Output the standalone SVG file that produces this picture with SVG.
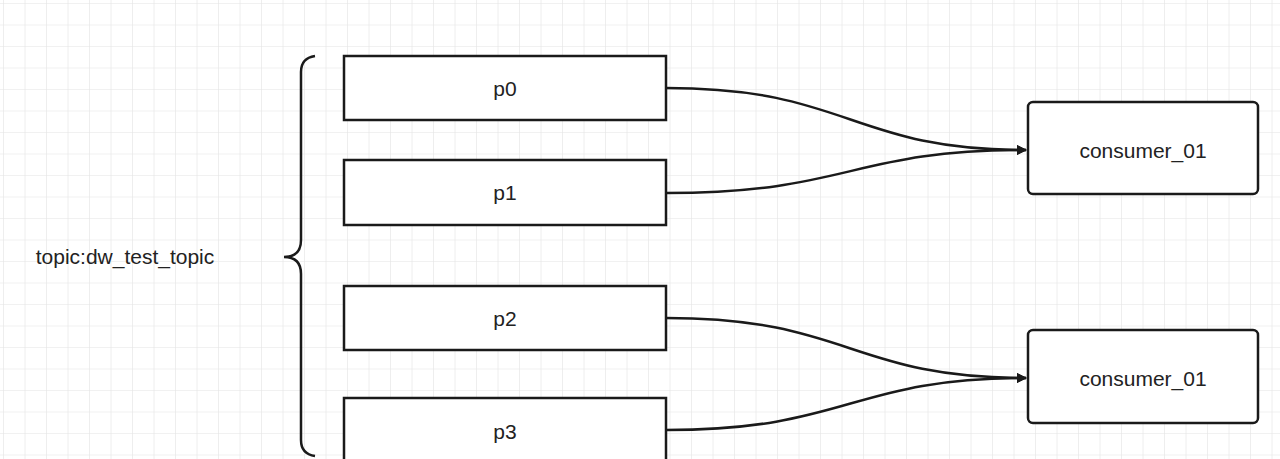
<svg xmlns="http://www.w3.org/2000/svg" width="1280" height="459" viewBox="0 0 1280 459">
<style>
.box{fill:#fff;stroke:#1a1a1a;stroke-width:2.5}
.t{font-family:"Liberation Sans",Arial,sans-serif;font-size:21px;fill:#222;text-anchor:middle}
.e{fill:none;stroke:#1a1a1a;stroke-width:2.5}
</style>
<defs>
<pattern id="g" width="21.5" height="21.5" patternUnits="userSpaceOnUse" x="4" y="4">
<path d="M21.5 0V21.5M0 21.5H21.5" fill="none" stroke="#e4e4e4" stroke-width="1.2"/>
</pattern>
<marker id="a" markerWidth="10" markerHeight="10" refX="9" refY="5" orient="auto" markerUnits="userSpaceOnUse" viewBox="0 0 10 10">
<path d="M0 0L10 5L0 10z" fill="#1a1a1a"/>
</marker>
</defs>
<rect width="1280" height="459" fill="#fff"/>
<rect width="1280" height="459" fill="url(#g)"/>
<g id="edges">
<path class="e" marker-end="url(#a)" d="M666 88C850 88 850 150 1026 150"/>
<path class="e" marker-end="url(#a)" d="M666 193C850 193 850 150 1026 150"/>
<path class="e" marker-end="url(#a)" d="M666 318C850 318 850 378 1026 378"/>
<path class="e" marker-end="url(#a)" d="M666 430C850 430 850 378 1026 378"/>
</g>
<g id="brace"><path class="e" d="M315 56Q301 58 301 72V240Q301 257 284 257Q301 257 301 274V440Q301 454 315 456"/></g>
<g id="topic"><text class="t" x="125" y="264">topic:dw_test_topic</text></g>
<g id="p0"><rect class="box" x="344" y="56" width="322" height="64"/><text class="t" x="505" y="96">p0</text></g>
<g id="p1"><rect class="box" x="344" y="160" width="322" height="65"/><text class="t" x="505" y="200">p1</text></g>
<g id="p2"><rect class="box" x="344" y="286" width="322" height="64"/><text class="t" x="505" y="326">p2</text></g>
<g id="p3"><rect class="box" x="344" y="398" width="322" height="70"/><text class="t" x="505" y="439">p3</text></g>
<g id="c1"><rect class="box" x="1028" y="102" width="230" height="92" rx="5"/><text class="t" x="1143" y="158">consumer_01</text></g>
<g id="c2"><rect class="box" x="1028" y="330" width="230" height="93" rx="5"/><text class="t" x="1143" y="386">consumer_01</text></g>
</svg>
